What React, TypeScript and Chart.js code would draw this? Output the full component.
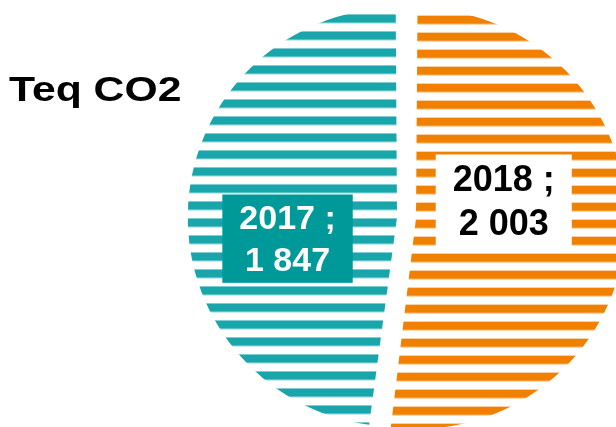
import React, { useEffect, useRef } from 'react';
import { Chart, registerables } from 'chart.js';

Chart.register(...registerables);

// ---- data ----
const categories = ['2018', '2017'];
const values = [2003, 1847];
const chartTitle = 'Teq CO2';

// ---- styles ----
const stripeColors = ['#F28000', '#19A6AB'];
const boxFills = ['#FFFFFF', '#00999A'];
const labelColors = ['#000000', '#FFFFFF'];
const labelFontSizes = [36, 34];
const labelRadius = [0.47, 0.575];
const labelTurnDeg = -13.5;
const FONT = '"Liberation Sans", Arial, Helvetica, sans-serif';

function fmt(v: number): string {
  return String(v).replace(/\B(?=(\d{3})+(?!\d))/g, ' ');
}

function stripes(color: string): CanvasPattern {
  const c = document.createElement('canvas');
  c.width = 4;
  c.height = 17;
  const g = c.getContext('2d')!;
  g.fillStyle = color;
  g.fillRect(0, 15, 4, 2);
  g.fillRect(0, 0, 4, 6.5);
  return g.createPattern(c, 'repeat')!;
}

const labelPlugin = {
  id: 'pieLabels',
  afterDatasetsDraw(chart: any) {
    const ctx: CanvasRenderingContext2D = chart.ctx;
    const meta = chart.getDatasetMeta(0);
    meta.data.forEach((arc: any, i: number) => {
      const p = arc.getProps(['x', 'y', 'startAngle', 'endAngle', 'outerRadius'], true);
      const mid = (p.startAngle + p.endAngle) / 2 + (labelTurnDeg * Math.PI) / 180;
      const r = 210 * labelRadius[i];
      const cx = p.x + Math.cos(mid) * r;
      const cy = p.y + Math.sin(mid) * r;
      const fs = labelFontSizes[i];
      const lines = [categories[i] + ' ;', fmt(values[i])];
      ctx.save();
      ctx.font = `bold ${fs}px ${FONT}`;
      const tw = Math.max(...lines.map((l) => ctx.measureText(l).width));
      const lineH = fs * 1.24;
      const bw = tw + 34;
      const bh = lineH * 2 + 4;
      ctx.fillStyle = boxFills[i];
      ctx.fillRect(cx - bw / 2, cy - bh / 2, bw, bh);
      ctx.fillStyle = labelColors[i];
      ctx.textAlign = 'center';
      ctx.textBaseline = 'alphabetic';
      const capH = fs * 0.716;
      ctx.fillText(lines[0], cx, cy - lineH / 2 + capH / 2 - 1);
      ctx.fillText(lines[1], cx, cy + lineH / 2 + capH / 2 - 1);
      ctx.restore();
    });
    // title
    ctx.save();
    ctx.font = `bold 35px ${FONT}`;
    ctx.fillStyle = '#000000';
    ctx.textAlign = 'left';
    ctx.textBaseline = 'alphabetic';
    ctx.translate(9, 101);
    ctx.scale(1.22, 1);
    ctx.fillText(chartTitle, 0, 0);
    ctx.restore();
  },
};

export default function App() {
  const ref = useRef<HTMLCanvasElement | null>(null);

  useEffect(() => {
    if (!ref.current) return;
    const chart = new Chart(ref.current, {
      type: 'pie',
      data: {
        labels: categories,
        datasets: [
          {
            data: values,
            backgroundColor: stripeColors.map(stripes),
            borderWidth: 0,
            offset: 38,
            radius: 201,
            clip: false,
          } as any,
        ],
      },
      options: {
        responsive: false,
        animation: false,
        events: [],
        layout: { padding: { left: 197, top: 9, right: 0, bottom: 0 } },
        plugins: {
          legend: { display: false },
          tooltip: { enabled: false },
          title: { display: false },
        },
      },
      plugins: [labelPlugin],
    });
    return () => chart.destroy();
  }, []);

  return (
    <div style={{ position: 'fixed', left: 0, top: 0, width: 616, height: 427, background: '#fff' }}>
      <canvas ref={ref} width={616} height={427} style={{ display: 'block', width: 616, height: 427 }} />
    </div>
  );
}
